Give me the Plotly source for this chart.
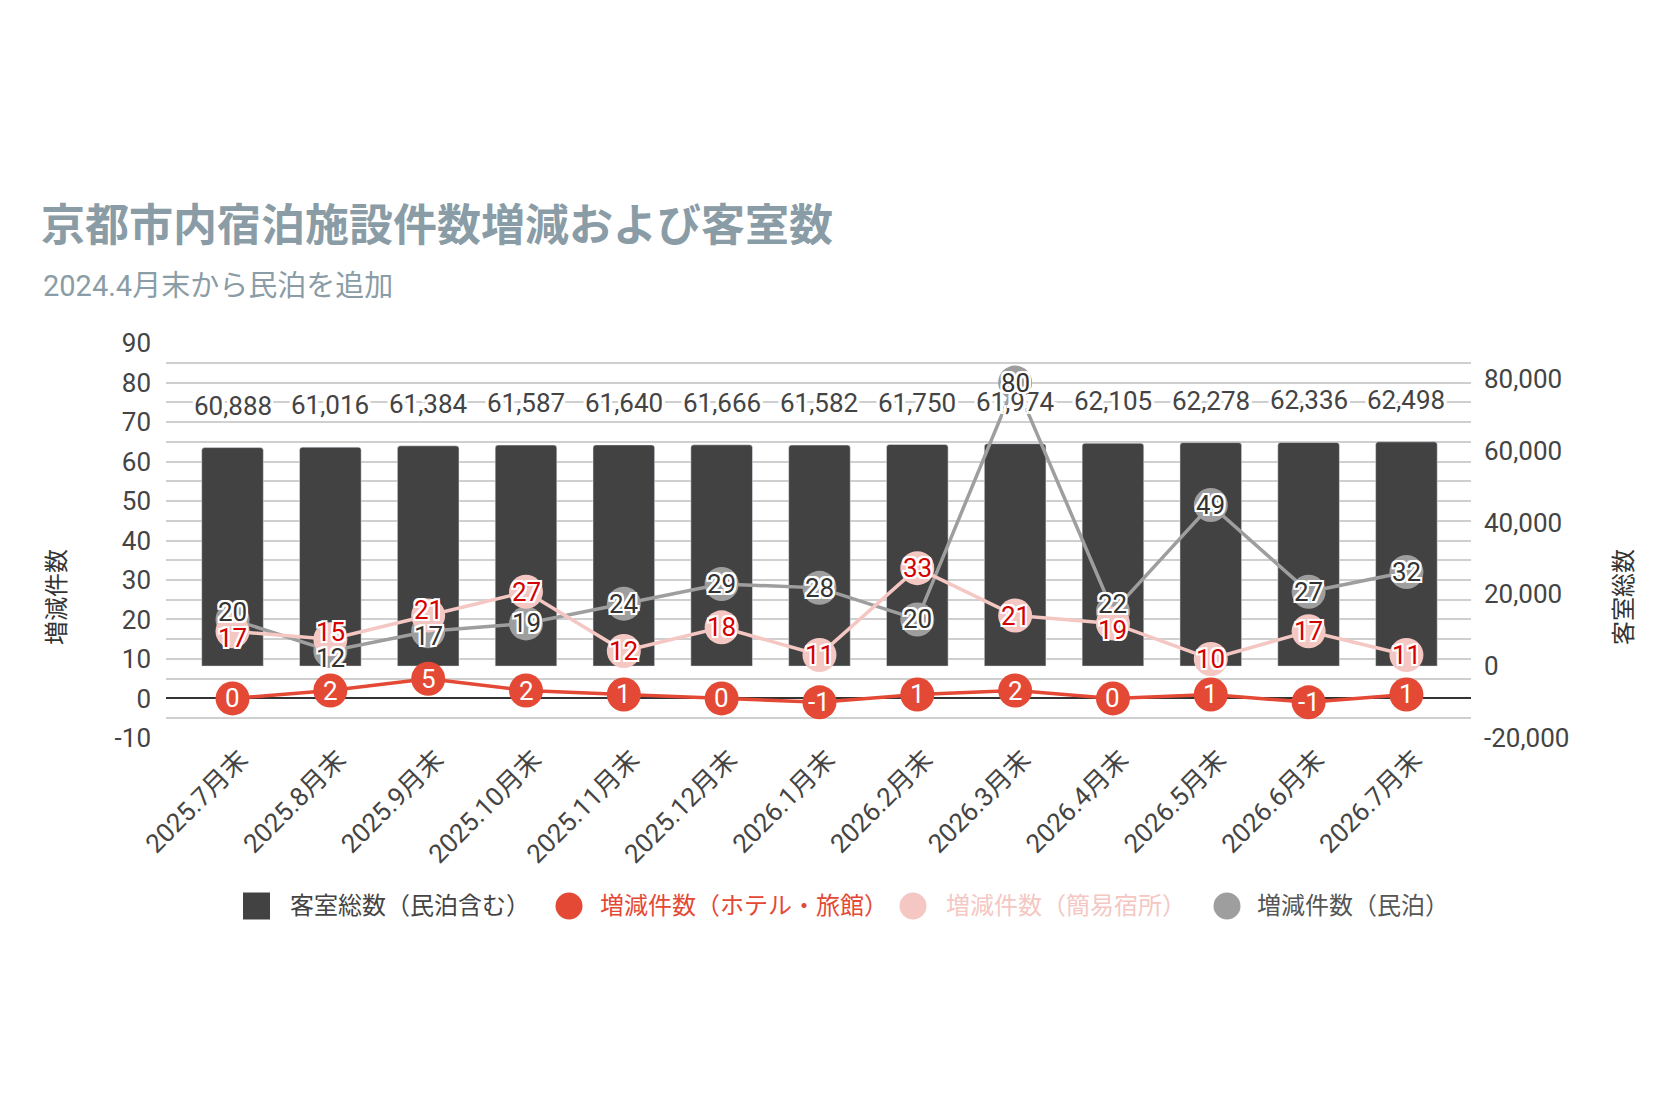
import plotly.graph_objects as go

months = ["2025.7月末", "2025.8月末", "2025.9月末", "2025.10月末", "2025.11月末",
          "2025.12月末", "2026.1月末", "2026.2月末", "2026.3月末", "2026.4月末",
          "2026.5月末", "2026.6月末", "2026.7月末"]
rooms_total = [60888, 61016, 61384, 61587, 61640, 61666, 61582, 61750, 61974,
               62105, 62278, 62336, 62498]
hotel_ryokan = [0, 2, 5, 2, 1, 0, -1, 1, 2, 0, 1, -1, 1]
kani_shukusho = [17, 15, 21, 27, 12, 18, 11, 33, 21, 19, 10, 17, 11]
minpaku = [20, 12, 17, 19, 24, 29, 28, 20, 80, 22, 49, 27, 32]

left_ticks = [-10, 0, 10, 20, 30, 40, 50, 60, 70, 80, 90]
right_ticks = [-20000, 0, 20000, 40000, 60000, 80000]

legend_names = ["客室総数（民泊含む）", "増減件数（ホテル・旅館）",
                "増減件数（簡易宿所）", "増減件数（民泊）"]

# page is offset by the 8px body margin
OFF = 8
W, H = 1680 - 2 * OFF, 1120 - 2 * OFF
L, R, T, B = 166, 1471, 343, 738   # plot area in page px

DARK = "#424242"
RED = "#e34935"
PINK = "#f4c7c3"
GREY = "#9e9e9e"
TXT = "#444444"
TITLE_C = "#8a9ca6"
FONT = "Roboto, 'Noto Sans CJK JP', sans-serif"

# left axis -10..90 maps onto right axis -20000..90000
pad = 0.03
left_range = [-10 - pad, 90 + pad]
right_range = [-20000 + (v + 10) * 1100 for v in left_range]
unit_px = (B - T) / (left_range[1] - left_range[0])


def px(x):
    return (x - L) / (R - L)


def py(y):
    return (B - y) / (B - T)


def halo(w=2, c="#ffffff"):
    offs = [(w, 0), (-w, 0), (0, w), (0, -w), (w, w), (-w, -w), (w, -w), (-w, w)]
    return ", ".join(f"{a}px {b}px 0 {c}" for a, b in offs)


fig = go.Figure()

# bars on the primary (right) axis so the lines sit on top
fig.add_trace(go.Bar(
    x=months, y=rooms_total, name=legend_names[0], yaxis="y",
    marker=dict(color=DARK, cornerradius=3), width=0.63, showlegend=False,
))

series = [
    (minpaku, GREY, "#333333", halo(2), legend_names[3]),
    (kani_shukusho, PINK, "#d50000", halo(2), legend_names[2]),
    (hotel_ryokan, RED, "#ffffff", "none", legend_names[1]),
]
for vals, col, _, _, name in series:
    fig.add_trace(go.Scatter(
        x=months, y=vals, name=name, yaxis="y2", mode="lines+markers",
        line=dict(color=col, width=3.5), marker=dict(color=col, size=34),
        showlegend=False,
    ))

annotations = []
for m, v in zip(months, rooms_total):
    annotations.append(dict(
        x=m, y=v, xref="x", yref="y", text=f"{v:,}", showarrow=False,
        yshift=42, font=dict(family=FONT, size=26, color=TXT, shadow=halo(3)),
    ))

# point labels; push the grey and pink labels apart where they collide
sep = 26
for i, m in enumerate(months):
    g, p = minpaku[i], kani_shukusho[i]
    gap = abs(g - p) * unit_px
    sg = sp = 0
    if gap < sep:
        s = (sep - gap) / 2
        sg, sp = (s, -s) if g >= p else (-s, s)
    for (vals, col, tcol, shd, name), sh in zip(series, [sg, sp, 0]):
        annotations.append(dict(
            x=m, y=vals[i], xref="x", yref="y2", text=str(vals[i]), showarrow=False,
            yshift=sh, font=dict(family=FONT, size=26, color=tcol, shadow=shd),
        ))

# subtitle and axis titles
annotations.append(dict(
    x=px(41), y=py(286), xref="paper", yref="paper", xanchor="left", yanchor="middle",
    text="2024.4月末から民泊を追加", showarrow=False,
    font=dict(family=FONT, size=29, color=TITLE_C),
))
annotations.append(dict(
    x=px(57), y=py(597), xref="paper", yref="paper", textangle=-90,
    xanchor="center", yanchor="middle",
    text="増減件数", showarrow=False, font=dict(family=FONT, size=24, color="#333333"),
))
annotations.append(dict(
    x=px(1624), y=py(597), xref="paper", yref="paper", textangle=-90,
    xanchor="center", yanchor="middle",
    text="客室総数", showarrow=False, font=dict(family=FONT, size=24, color="#333333"),
))

# hand-made legend to get the large symbols
shapes = []
leg_y = 906
sym = 13.5
leg_items = [
    ("rect", 256.5, 288, DARK, TXT),
    ("circle", 569, 598, RED, RED),
    ("circle", 913, 944, PINK, PINK),
    ("circle", 1227, 1255, GREY, "#555555"),
]
for (kind, cx, tx, col, tcol), name in zip(leg_items, legend_names):
    shapes.append(dict(
        type=kind, xref="paper", yref="paper",
        x0=px(cx - sym), x1=px(cx + sym), y0=py(leg_y + sym), y1=py(leg_y - sym),
        fillcolor=col, line=dict(width=0),
    ))
    annotations.append(dict(
        x=px(tx), y=py(leg_y), xref="paper", yref="paper", xanchor="left",
        yanchor="middle", text=name, showarrow=False,
        font=dict(family=FONT, size=24, color=tcol),
    ))

fig.update_layout(
    width=W, height=H,
    margin=dict(l=L - OFF, r=W - (R - OFF), t=T - OFF, b=H - (B - OFF), autoexpand=False),
    paper_bgcolor="#ffffff", plot_bgcolor="#ffffff",
    font=dict(family=FONT, size=26, color=TXT),
    title=dict(
        text="<b>京都市内宿泊施設件数増減および客室数</b>",
        x=(41 - OFF) / W, xref="container", xanchor="left",
        y=1 - (226 - OFF) / H, yref="container", yanchor="middle",
        font=dict(family=FONT, size=44, color=TITLE_C),
    ),
    xaxis=dict(
        type="category", range=[-0.68, 12.66], tickangle=-45, ticklabelshift=8,
        showgrid=False, ticks="", tickfont=dict(size=26, color=TXT),
    ),
    yaxis=dict(
        side="right", range=right_range, ticklabelstandoff=12,
        tickmode="array", tickvals=right_ticks, ticktext=[f"{v:,}" for v in right_ticks],
        showgrid=False, zeroline=False, ticks="",
        tickfont=dict(size=26, color=TXT),
    ),
    yaxis2=dict(
        side="left", overlaying="y", range=left_range, ticklabelstandoff=14,
        tickmode="array", tickvals=left_ticks, ticktext=[str(v) for v in left_ticks],
        showgrid=True, gridcolor="#cfcfcf", gridwidth=1.6,
        minor=dict(tickmode="linear", tick0=0, dtick=5, showgrid=True,
                   gridcolor="#cfcfcf", gridwidth=1.6),
        zeroline=True, zerolinecolor="#333333", zerolinewidth=1.5, ticks="",
        tickfont=dict(size=26, color=TXT),
    ),
    annotations=annotations,
    shapes=shapes,
    showlegend=False,
)

fig.write_html("out.html")
